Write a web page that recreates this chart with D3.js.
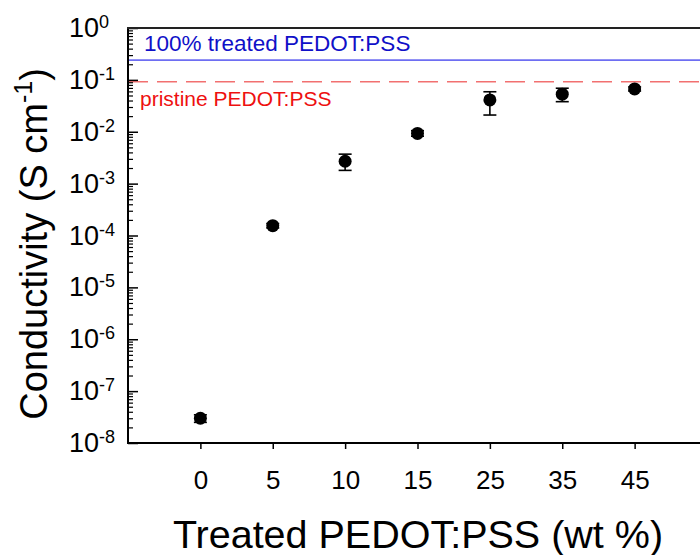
<!DOCTYPE html>
<html>
<head>
<meta charset="utf-8">
<script src="https://cdn.jsdelivr.net/npm/d3@7"></script>
<style>
  html, body { margin: 0; padding: 0; background: #fff; }
  svg { display: block; font-family: "Liberation Sans", Arial, sans-serif; }
</style>
</head>
<body>
<svg id="chart" width="700" height="555"></svg>
<script>
// ---- data ----
const categories = ["0", "5", "10", "15", "25", "35", "45"];
const conductivity = [3.0e-8, 1.55e-4, 2.7e-3, 9.3e-3, 0.041, 0.053, 0.067];
const errLow  = [2.5e-8, 1.40e-4, 1.8e-3, 8.2e-3, 0.021, 0.038, 0.061];
const errHigh = [3.5e-8, 1.70e-4, 3.7e-3, 1.05e-2, 0.059, 0.069, 0.073];
const treatedRef = 0.24;   // 100% treated PEDOT:PSS
const pristineRef = 0.092; // pristine PEDOT:PSS
const yTickExps = [0, -1, -2, -3, -4, -5, -6, -7, -8];

// ---- layout ----
const svg = d3.select("#chart");
const pLeft = 128, pRight = 707, pTop = 28, pBottom = 443;

const x = d3.scaleLinear().domain([-1, categories.length]).range([pLeft, pRight]);
const y = d3.scaleLog().domain([1e-8, 1]).range([pBottom, pTop]);

// reference lines
svg.append("line")
  .attr("x1", pLeft).attr("x2", 700)
  .attr("y1", y(treatedRef)).attr("y2", y(treatedRef))
  .attr("stroke", "#6e6ef2").attr("stroke-width", 1.6);
svg.append("line")
  .attr("x1", pLeft).attr("x2", 700)
  .attr("y1", y(pristineRef)).attr("y2", y(pristineRef))
  .attr("stroke", "#f27070").attr("stroke-width", 1.6)
  .attr("stroke-dasharray", "20,9");

svg.append("text").attr("x", 144).attr("y", 51)
  .attr("fill", "#1010c8").attr("font-size", 22.5)
  .text("100% treated PEDOT:PSS");
svg.append("text").attr("x", 140).attr("y", 106)
  .attr("fill", "#ee1010").attr("font-size", 21)
  .text("pristine PEDOT:PSS");

// y axis (log) with inward ticks
const yMinor = [];
for (let e = -8; e < 0; e++) for (let m = 2; m <= 9; m++) yMinor.push(m * Math.pow(10, e));
const yAxisG = svg.append("g").attr("transform", `translate(${pLeft},0)`);
yAxisG.append("g")
  .call(d3.axisRight(y).tickValues(yMinor).tickSize(5).tickFormat(""))
  .call(g => g.select(".domain").remove())
  .selectAll("line").attr("stroke", "#000").attr("stroke-width", 1.2);
yAxisG.append("g")
  .call(d3.axisRight(y).tickValues(yTickExps.map(e => Math.pow(10, e))).tickSize(10).tickFormat(""))
  .call(g => g.select(".domain").remove())
  .selectAll("line").attr("stroke", "#000").attr("stroke-width", 1.5);

// y tick labels with superscripts
const yl = svg.append("g");
yTickExps.forEach(e => {
  const t = yl.append("text")
    .attr("x", 69).attr("y", y(Math.pow(10, e)) + 9)
    .attr("text-anchor", "start").attr("font-size", 27).attr("fill", "#000");
  t.append("tspan").text("10");
  t.append("tspan").attr("font-size", 18).attr("dy", -9).text(String(e));
});

// x axis
const xAxisG = svg.append("g").attr("transform", `translate(0,${pBottom})`)
  .call(d3.axisBottom(x).tickValues(d3.range(categories.length)).tickSize(6)
    .tickFormat(i => categories[i]).tickPadding(22));
xAxisG.select(".domain").remove();
xAxisG.selectAll("line").attr("stroke", "#000").attr("stroke-width", 1.5);
xAxisG.selectAll("text").attr("font-size", 26).attr("fill", "#000")
  .attr("font-family", "Liberation Sans, Arial, sans-serif");

// frame: left, bottom, top
svg.append("line").attr("x1", pLeft).attr("x2", pLeft).attr("y1", pTop - 1).attr("y2", pBottom + 1)
  .attr("stroke", "#000").attr("stroke-width", 2);
svg.append("line").attr("x1", pLeft - 1).attr("x2", 700).attr("y1", pBottom).attr("y2", pBottom)
  .attr("stroke", "#000").attr("stroke-width", 2);
svg.append("line").attr("x1", pLeft - 1).attr("x2", 700).attr("y1", pTop).attr("y2", pTop)
  .attr("stroke", "#222").attr("stroke-width", 2);

// error bars
const eb = svg.append("g").attr("stroke", "#000").attr("stroke-width", 1.6);
categories.forEach((c, i) => {
  const cx = x(i);
  eb.append("line").attr("x1", cx).attr("x2", cx).attr("y1", y(errLow[i])).attr("y2", y(errHigh[i]));
  eb.append("line").attr("x1", cx - 6.5).attr("x2", cx + 6.5).attr("y1", y(errLow[i])).attr("y2", y(errLow[i]));
  eb.append("line").attr("x1", cx - 6.5).attr("x2", cx + 6.5).attr("y1", y(errHigh[i])).attr("y2", y(errHigh[i]));
});

// points
svg.append("g").selectAll("circle").data(conductivity).join("circle")
  .attr("cx", (d, i) => x(i)).attr("cy", d => y(d)).attr("r", 6.5).attr("fill", "#000");

// axis titles
svg.append("text").attr("x", 418).attr("y", 548).attr("text-anchor", "middle")
  .attr("font-size", 39.5).attr("fill", "#000").text("Treated PEDOT:PSS (wt %)");
const yt = svg.append("text").attr("transform", "translate(47,244) rotate(-90)")
  .attr("text-anchor", "middle").attr("font-size", 38).attr("fill", "#000");
yt.append("tspan").text("Conductivity (S cm");
yt.append("tspan").attr("font-size", 25).attr("dy", -15).text("-1");
yt.append("tspan").attr("dy", 15).text(")");
</script>
</body>
</html>
